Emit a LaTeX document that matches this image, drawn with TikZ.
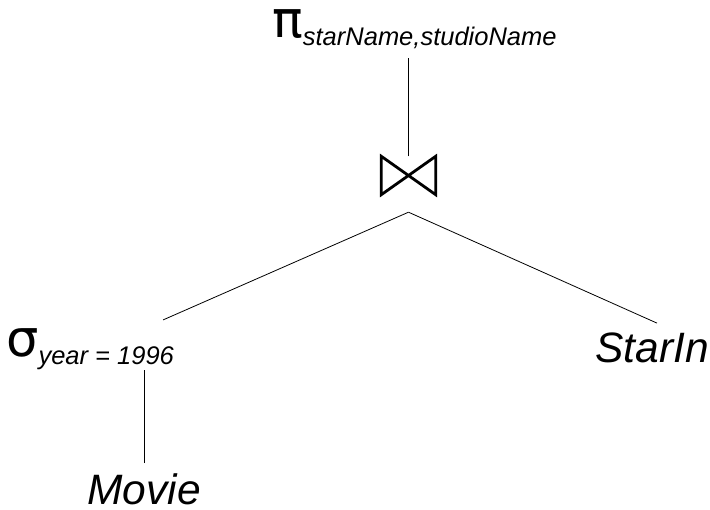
\documentclass[tikz,border=0pt]{standalone}
\usepackage{fontspec}
\setmainfont{Liberation Sans}
\newfontfamily\greekfont{DejaVu Sans}
\begin{document}
\begin{tikzpicture}[x=1pt,y=-1pt,
  conn/.style={line width=0.8pt},
  bow/.style={line width=2.8pt,line join=miter},
  opbig/.style={inner sep=0pt,font=\fontsize{25.5}{25.5}\selectfont},
  rel/.style={inner sep=0pt,font=\fontsize{42.5}{42.5}\selectfont\itshape}]
\useasboundingbox (0,0) rectangle (710,510);
\newcommand{\opsym}[1]{{\fontsize{51}{51}\greekfont #1}}
\newcommand{\subtxt}[1]{{\itshape\raisebox{-8pt}{#1}}}
% projection
\node[opbig,anchor=base west] (pi) at (272,38) {\opsym{π}\subtxt{starName,studioName}};
% join
\node[minimum width=54pt,minimum height=38pt,inner sep=0pt] (join) at (408.5,175.5) {};
\draw[bow] (join.north west) -- (join.south east) -- (join.north east) -- (join.south west) -- cycle;
\coordinate (jbot) at ([yshift=-17.5pt]join.south);
% selection
\node[opbig,anchor=base west] (sigma) at (6,357) {\opsym{σ}\subtxt{year = 1996}};
% relations
\node[rel,anchor=base] (movie) at (144,504) {Movie};
\node[rel,anchor=base] (starin) at (652,363) {StarIn};
% connectors
\draw[conn] (join.north) -- ([yshift=-9pt]join.north |- pi.south);
\draw[conn] (jbot) -- ([xshift=-11pt,yshift=9pt]sigma.north east);
\draw[conn] (jbot) -- ([xshift=5pt,yshift=10pt]starin.north);
\draw[conn] ([yshift=10pt]movie.north) -- (movie.north |- sigma.south);
\end{tikzpicture}
\end{document}
